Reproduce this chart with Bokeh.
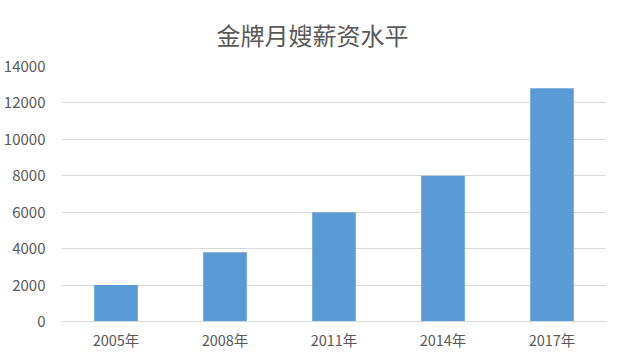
from bokeh.plotting import figure
from bokeh.models import Range1d, SingleIntervalTicker, Title
from bokeh.embed import file_html
from bokeh.resources import INLINE

years = ["2005年", "2008年", "2011年", "2014年", "2017年"]
salary = [2000, 3800, 6000, 8000, 12800]
title_text = "金牌月嫂薪资水平"

FONT = "Noto Sans CJK SC"
TXT = "#595959"
GRID = "#d9d9d9"

p = figure(x_range=years, y_range=Range1d(0, 14000), width=615, height=359,
           output_backend="svg", toolbar_location=None,
           min_border_left=60, min_border_right=9, min_border_top=66, min_border_bottom=38)
p.title = Title(text=title_text, align="left", offset=155, standoff=25,
                vertical_align="top",
                text_font=FONT, text_font_size="24px", text_color=TXT,
                text_font_style="normal")
p.outline_line_color = None
p.background_fill_color = "white"
p.border_fill_color = "white"

p.vbar(x=years, top=salary, width=0.40, color="#5b9bd5", line_color=None)

p.yaxis.ticker = SingleIntervalTicker(interval=2000)
p.yaxis.axis_line_color = None
p.yaxis.major_tick_line_color = None
p.yaxis.minor_tick_line_color = None
p.yaxis.major_label_text_font = FONT
p.yaxis.major_label_text_font_size = "15px"
p.yaxis.major_label_text_color = TXT
p.yaxis.major_label_standoff = 10

p.xaxis.axis_line_color = GRID
p.xaxis.major_tick_line_color = None
p.xaxis.minor_tick_line_color = None
p.xaxis.major_label_text_font = FONT
p.xaxis.major_label_text_font_size = "14.5px"
p.xaxis.major_label_text_color = TXT
p.xaxis.major_label_standoff = 1

p.xgrid.grid_line_color = None
p.ygrid.grid_line_color = GRID

open("out.html", "w").write(file_html(p, INLINE))
